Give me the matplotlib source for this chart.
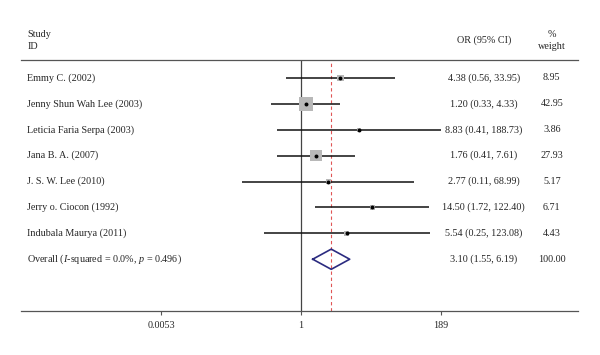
import numpy as np
import matplotlib
matplotlib.use("Agg")
import matplotlib.pyplot as plt
import matplotlib.transforms as mtransforms

plt.rcParams['font.family'] = ['Liberation Serif', 'DejaVu Serif']
plt.rcParams['mathtext.fontset'] = 'custom'
plt.rcParams['mathtext.rm'] = 'Liberation Serif'
plt.rcParams['mathtext.it'] = 'Liberation Serif:italic'

# study data
studies = ["Emmy C. (2002)", "Jenny Shun Wah Lee (2003)", "Leticia Faria Serpa (2003)",
           "Jana B. A. (2007)", "J. S. W. Lee (2010)", "Jerry o. Ciocon (1992)",
           "Indubala Maurya (2011)"]
odds = [4.38, 1.20, 8.83, 1.76, 2.77, 14.50, 5.54]
ci_low = [0.56, 0.33, 0.41, 0.41, 0.11, 1.72, 0.25]
ci_high = [33.95, 4.33, 188.73, 7.61, 68.99, 122.40, 123.08]
weights = [8.95, 42.95, 3.86, 27.93, 5.17, 6.71, 4.43]

overall_label = r"Overall ($I$-squared = 0.0%, $p$ = 0.496)"
overall = [3.10, 1.55, 6.19]
overall_weight = 100.00

tick_vals = [0.0053, 1, 189]
tick_labels = ["0.0053", "1", "189"]

txt = "#262626"
fs = 7.3

fig = plt.figure(figsize=(6, 3.55), dpi=100)
W, H = 600, 355
ax = fig.add_axes([21 / W, 1 - 311 / H, (578 - 21) / W, (311 - 60) / H])
ax.set_xscale("log")
ax.set_xlim(10 ** -4.553, 10 ** 4.504)
ax.set_ylim(9.0, -0.695)

rows = np.arange(len(studies))

# CI lines
ax.hlines(rows, ci_low, ci_high, color="#111111", lw=1.1, zorder=2)
# weight boxes
side_px = 2.2 * np.sqrt(weights)
side_pt = side_px * 72 / 100
ax.scatter(odds, rows, s=side_pt ** 2, marker="s", color="#b8b8b8", lw=0, zorder=3)
ax.scatter(odds, rows, s=8, marker="o", color="black", lw=0, zorder=4)

# overall diamond
oy = len(studies)
dx = [overall[1], overall[0], overall[2], overall[0], overall[1]]
dy = [oy, oy - 0.39, oy, oy + 0.39, oy]
ax.plot(dx, dy, color="#2b2b80", lw=1.2, zorder=4)

# reference lines
ax.axvline(1, color="#444444", lw=0.9, zorder=1)
ax.axvline(overall[0], color="#e05555", lw=0.8, ls=(0, (3, 2.5)), zorder=1)

# spines / ticks
for s in ["left", "right"]:
    ax.spines[s].set_visible(False)
for s in ["top", "bottom"]:
    ax.spines[s].set_color("#555555")
    ax.spines[s].set_linewidth(0.9)
ax.set_yticks([])
ax.set_xticks(tick_vals)
ax.set_xticklabels(tick_labels)
ax.minorticks_off()
ax.tick_params(axis="x", length=3, width=0.8, color="#555555", pad=4,
               labelsize=fs, labelcolor=txt)

# text columns
tr = mtransforms.blended_transform_factory(ax.transAxes, ax.transData)
x_name, x_or, x_wt = 0.011, 0.831, 0.953


def ytext(px):
    return (px - 78) / 25.9


ax.text(x_name, ytext(34), "Study", transform=tr, fontsize=fs, color=txt,
        ha="left", va="center", clip_on=False)
ax.text(x_name, ytext(46), "ID", transform=tr, fontsize=fs, color=txt,
        ha="left", va="center", clip_on=False)
ax.text(x_or, ytext(40), "OR (95% CI)", transform=tr, fontsize=fs, color=txt,
        ha="center", va="center", clip_on=False)
ax.text(x_wt, ytext(34), "%", transform=tr, fontsize=fs, color=txt,
        ha="center", va="center", clip_on=False)
ax.text(x_wt, ytext(46), "weight", transform=tr, fontsize=fs, color=txt,
        ha="center", va="center", clip_on=False)

for i, name in enumerate(studies):
    ax.text(x_name, i, name, transform=tr, fontsize=fs, color=txt, ha="left", va="center")
    ax.text(x_or, i, f"{odds[i]:.2f} ({ci_low[i]:.2f}, {ci_high[i]:.2f})",
            transform=tr, fontsize=fs, color=txt, ha="center", va="center")
    ax.text(x_wt, i, f"{weights[i]:.2f}", transform=tr, fontsize=fs, color=txt,
            ha="center", va="center")

ax.text(x_name, oy, overall_label, transform=tr, fontsize=fs, color=txt, ha="left", va="center")
ax.text(x_or, oy, f"{overall[0]:.2f} ({overall[1]:.2f}, {overall[2]:.2f})",
        transform=tr, fontsize=fs, color=txt, ha="center", va="center")
ax.text(x_wt, oy, f"{overall_weight:.2f}", transform=tr, fontsize=fs, color=txt,
        ha="center", va="center")

fig.savefig("out.png", dpi=100)
